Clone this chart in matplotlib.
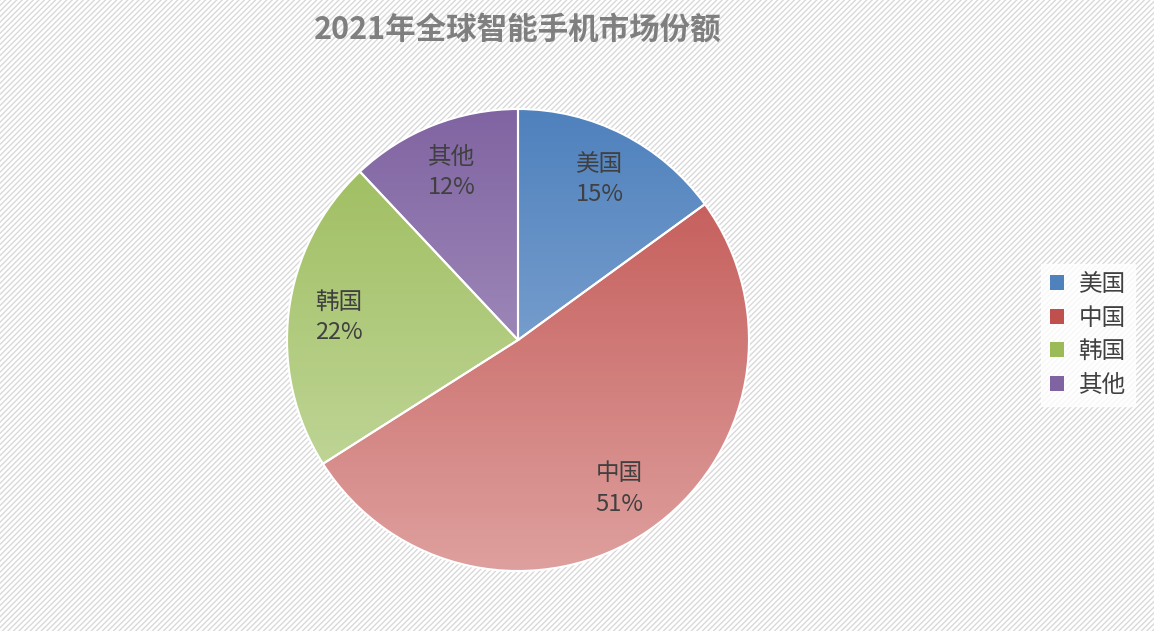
import numpy as np
import matplotlib.pyplot as plt
from matplotlib.colors import LinearSegmentedColormap
from matplotlib.patches import Rectangle, Patch

plt.rcParams['font.family'] = ['Noto Sans CJK SC', 'DejaVu Sans']

labels = ['美国', '中国', '韩国', '其他']
shares = [15, 51, 22, 12]
top_colors = ['#4f81bd', '#c0504d', '#9bbb59', '#8064a2']
bottom_colors = ['#9bb8dc', '#dea09e', '#c8dca6', '#b9a9cc']

fig = plt.figure(figsize=(11.54, 6.31), dpi=100)

# hatched background
bg = Rectangle((0, 0), 1, 1, transform=fig.transFigure, facecolor='white',
               edgecolor='#d9d9d9', hatch='//////', linewidth=0, zorder=-10)
fig.patches.append(bg)

W, H = 1154, 631
cx, cy, r = 518, 340, 231
ax = fig.add_axes([(cx - r) / W, (H - cy - r) / H, 2 * r / W, 2 * r / H])
ax.axis('off')

wedges, _ = ax.pie(shares, startangle=90, counterclock=False, radius=1,
                   wedgeprops=dict(facecolor='none', edgecolor='white', linewidth=1.5))

grad = np.linspace(0, 1, 256).reshape(-1, 1)
for w, c1, c2 in zip(wedges, top_colors, bottom_colors):
    cmap = LinearSegmentedColormap.from_list('g', [c1, c2])
    im = ax.imshow(grad, cmap=cmap, extent=(-1, 1, -1, 1), origin='upper',
                   aspect='auto', zorder=1)
    im.set_clip_path(w)
    w.set_zorder(2)
ax.set_xlim(-1, 1)
ax.set_ylim(-1, 1)

for w, lab, val in zip(wedges, labels, shares):
    ang = np.deg2rad((w.theta1 + w.theta2) / 2)
    x, y = 0.78 * np.cos(ang), 0.78 * np.sin(ang)
    ax.text(x, y, f'{lab}\n{val}%', ha='center', va='center', fontsize=17,
            color='#404040', zorder=3, linespacing=1.4)

fig.text(cx / W, 1 - 30 / H, '2021年全球智能手机市场份额', ha='center', va='center',
         fontsize=22, fontweight='bold', color='#7f7f7f')

handles = [Patch(facecolor=c, edgecolor='none') for c in top_colors]
leg = fig.legend(handles, labels, loc='center', bbox_to_anchor=(1088 / W, 1 - 335 / H),
                 fontsize=17, frameon=True, fancybox=False, edgecolor='white',
                 handlelength=0.6, handleheight=0.6, handletextpad=0.6,
                 labelspacing=0.45, labelcolor='#404040')
leg.get_frame().set_facecolor('white')

fig.savefig('out.png', dpi=100)
